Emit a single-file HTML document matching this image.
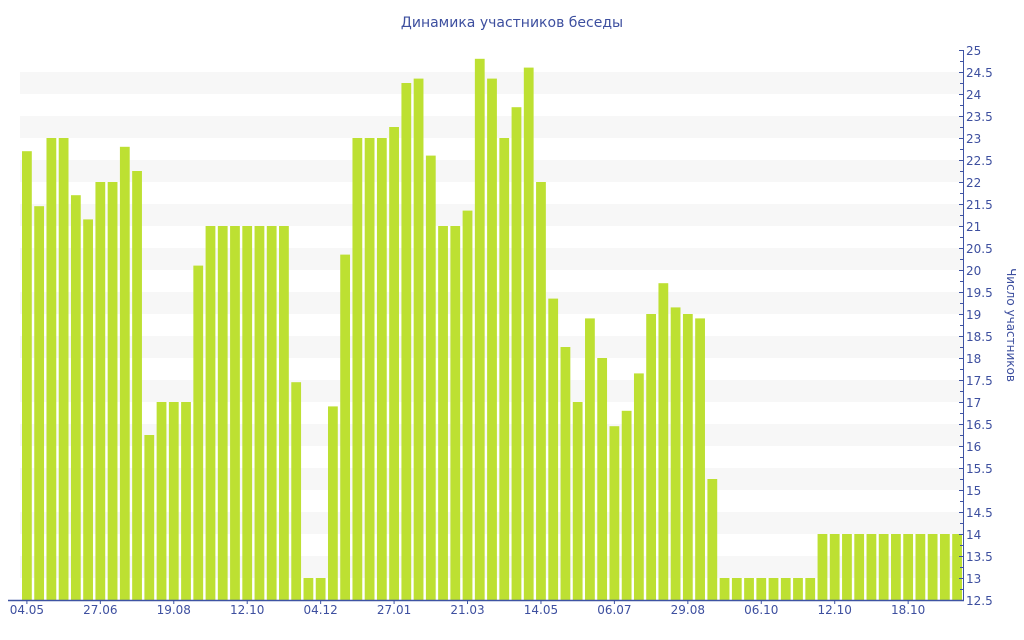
<!DOCTYPE html>
<html><head><meta charset="utf-8">
<style>
html,body{margin:0;padding:0;background:#fff;}
svg{display:block;font-family:"DejaVu Sans","Liberation Sans",sans-serif;}
</style></head>
<body>
<svg id="chart" width="1024" height="640" viewBox="0 0 1024 640">
  <text x="512" y="27" text-anchor="middle" font-size="14" fill="#3d4f9f">Динамика участников беседы</text>
  <g id="bands"></g>
  <g id="bars"></g>
  <g id="xaxis"></g>
  <g id="yaxis"></g>
  <text transform="translate(1007,325) rotate(90)" text-anchor="middle" font-size="12" fill="#3d4f9f">Число участников</text>
</svg>
<script>
const values = [22.7,21.45,23,23,21.7,21.15,22,22,22.8,22.25,16.25,17,17,17,20.1,21,21,21,21,21,21,21,17.45,13,13,16.9,
20.35,23,23,23,23.25,24.25,24.35,22.6,21,21,21.35,24.8,24.35,23,23.7,24.6,22,19.35,18.25,17,18.9,18,16.45,16.8,17.65,19,19.7,
19.15,19,18.9,15.25,13,13,13,13,13,13,13,13,14,14,14,14,14,14,14,14,14,14,14,14];
const xLabels = ["04.05","27.06","19.08","12.10","04.12","27.01","21.03","14.05","06.07","29.08","06.10","12.10","18.10"];
const labelEvery = 6;
const yMin = 12.5, yMax = 25, yStep = 0.5;

const NS = "http://www.w3.org/2000/svg";
const plotL = 20, plotR = 963, plotT = 50, plotB = 600;
const pitch = (962 - 22) / (values.length - 1 + 0.8);
function xBand(i){ return 22 + i * pitch; }
function y(v){ return plotB - (v - yMin) / (yMax - yMin) * (plotB - plotT); }
function mk(tag, attrs, parent){
  const e = document.createElementNS(NS, tag);
  for (const k in attrs) e.setAttribute(k, attrs[k]);
  parent.appendChild(e); return e;
}
const bands = document.getElementById('bands');
for (let n = Math.ceil(yMin); n < yMax; n++) {
  const r = mk('rect', {x: plotL, y: y(n + 0.5), width: plotR - plotL, height: y(n) - y(n + 0.5), fill: '#f7f7f7'}, bands);
  
  
}
const barsG = document.getElementById('bars');
const bw = pitch * 0.8;
values.forEach((v, i) => {
  const r = mk('rect', {x: xBand(i), y: y(v), width: bw, height: plotB - y(v), fill: '#bde032'}, barsG);
  
  
});
const xa = document.getElementById('xaxis');
mk('line', {x1: 8, x2: plotR + 1, y1: plotB + 0.5, y2: plotB + 0.5, stroke: '#3e53a3', 'stroke-width': 1.5}, xa);
xLabels.forEach((lab, j) => {
  const cx = xBand(j * labelEvery) + bw / 2;
  mk('line', {x1: cx, x2: cx, y1: plotB, y2: plotB + 4, stroke: '#3e53a3'}, xa);
  const t = mk('text', {x: cx, y: plotB + 14, 'text-anchor': 'middle', 'font-size': 12, fill: '#3d4f9f'}, xa);
  t.textContent = lab;
  
  
});
const ya = document.getElementById('yaxis');
mk('line', {x1: plotR + 0.5, x2: plotR + 0.5, y1: plotT, y2: plotB, stroke: '#3e53a3', 'stroke-width': 1}, ya);
for (let k = 0; k <= (yMax - yMin) / 0.25 + 1e-9; k++) {
  const v = yMin + k * 0.25;
  const major = k % 2 === 0;
  const yy = Math.round(y(v)) + 0.5;
  mk('line', {x1: plotR - (major ? 4 : 3), x2: plotR, y1: yy, y2: yy, stroke: '#3e53a3'}, ya);
}
for (let v = yMin; v <= yMax + 1e-9; v += yStep) {
  const t = mk('text', {x: plotR + 3, y: y(v) + 5, 'font-size': 12, fill: '#3d4f9f'}, ya);
  t.textContent = String(Math.round(v * 10) / 10);
  
  
}
</script>
</body></html>
